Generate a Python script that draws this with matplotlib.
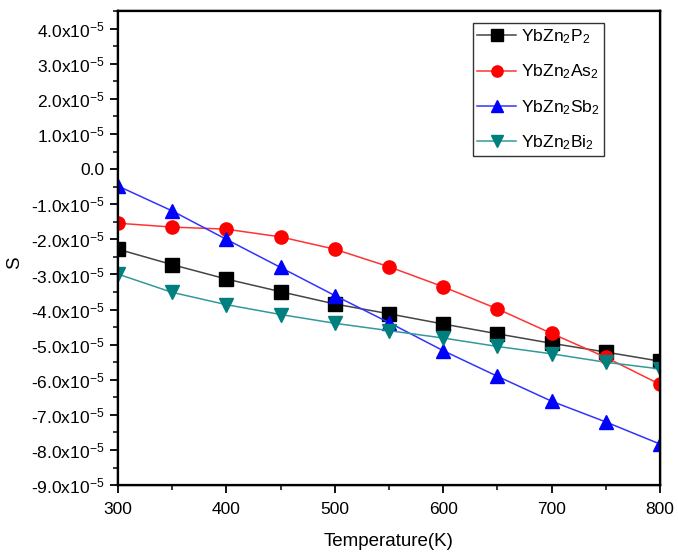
import matplotlib
matplotlib.use('Agg')
import matplotlib.pyplot as plt
from matplotlib.ticker import MultipleLocator, FuncFormatter

plt.rcParams['font.family'] = ['Liberation Sans', 'DejaVu Sans']
plt.rcParams['mathtext.fontset'] = 'custom'
plt.rcParams['mathtext.rm'] = 'Liberation Sans'
plt.rcParams['mathtext.it'] = 'Liberation Sans'

# data (S in units of 1e-5)
temperature = [300, 350, 400, 450, 500, 550, 600, 650, 700, 750, 800]
s_p = [-2.28, -2.72, -3.13, -3.49, -3.84, -4.12, -4.41, -4.69, -4.96, -5.21, -5.47]
s_as = [-1.54, -1.65, -1.71, -1.93, -2.28, -2.78, -3.35, -3.98, -4.68, -5.36, -6.13]
s_sb = [-0.48, -1.19, -2.00, -2.80, -3.60, -4.37, -5.17, -5.90, -6.61, -7.20, -7.83]
s_bi = [-2.99, -3.51, -3.86, -4.14, -4.39, -4.60, -4.81, -5.05, -5.26, -5.50, -5.69]
labels = [r'YbZn$_2$P$_2$', r'YbZn$_2$As$_2$', r'YbZn$_2$Sb$_2$', r'YbZn$_2$Bi$_2$']
scale = 1e-5

fig = plt.figure(figsize=(6.78, 5.57), dpi=100)
ax = fig.add_axes([0.174, 0.129, 0.7995, 0.851])

styles = [('k', '#444444', 's'), ('r', '#ff3333', 'o'), ('b', '#3333ff', '^'), ('#007f7f', '#339999', 'v')]
for vals, lab, (mc, lc, mk) in zip([s_p, s_as, s_sb, s_bi], labels, styles):
    ax.plot(temperature, [v * scale for v in vals], color=lc, lw=1.1,
            marker=mk, ms=9.5, mfc=mc, mec=mc, label=lab)

ax.set_xlim(300, 800)
ax.set_ylim(-9e-5, 4.5e-5)
ax.xaxis.set_major_locator(MultipleLocator(100))
ax.xaxis.set_minor_locator(MultipleLocator(50))
ax.yaxis.set_major_locator(MultipleLocator(1e-5))
ax.yaxis.set_minor_locator(MultipleLocator(0.5e-5))


def fmt(v, pos):
    m = v / scale
    if abs(m) < 1e-6:
        return '0.0'
    return '%.1fx10$^{-5}$' % m


ax.yaxis.set_major_formatter(FuncFormatter(fmt))
ax.tick_params(which='major', direction='out', length=6, width=1.3, labelsize=12.5,
               top=False, right=False)
ax.tick_params(which='minor', direction='out', length=3.5, width=1.1, top=False, right=False)
ax.tick_params(axis='x', which='major', pad=6)
for sp in ax.spines.values():
    sp.set_linewidth(1.6)

# right and top frame ticks
axr = ax.twinx()
axr.set_ylim(0, 10)
axr.set_yticks(range(1, 10))
axr.tick_params(direction='in', length=4, width=1.2, labelright=False)
axt = ax.twiny()
axt.set_xlim(300, 800)
axt.set_xticks([350, 450, 550, 650, 750])
axt.tick_params(direction='in', length=4, width=1.2, labeltop=False)
for a in (axr, axt):
    for sp in a.spines.values():
        sp.set_linewidth(1.6)

ax.set_xlabel('Temperature(K)', fontsize=13.5, labelpad=12)
ax.set_ylabel('S', fontsize=13.5)
ax.yaxis.set_label_coords(-0.175, 0.47)

leg = ax.legend(loc='upper left', bbox_to_anchor=(0.655, 0.975), fontsize=12.6,
                frameon=True, fancybox=False, edgecolor='#333333', framealpha=1,
                handlelength=2.2, labelspacing=0.95, borderpad=0.25, handletextpad=0.3,
                borderaxespad=0, markerscale=0.85)
leg.get_frame().set_linewidth(1.0)
axt.set_zorder(-1)
axr.set_zorder(-1)

fig.savefig('out.png', dpi=100)
